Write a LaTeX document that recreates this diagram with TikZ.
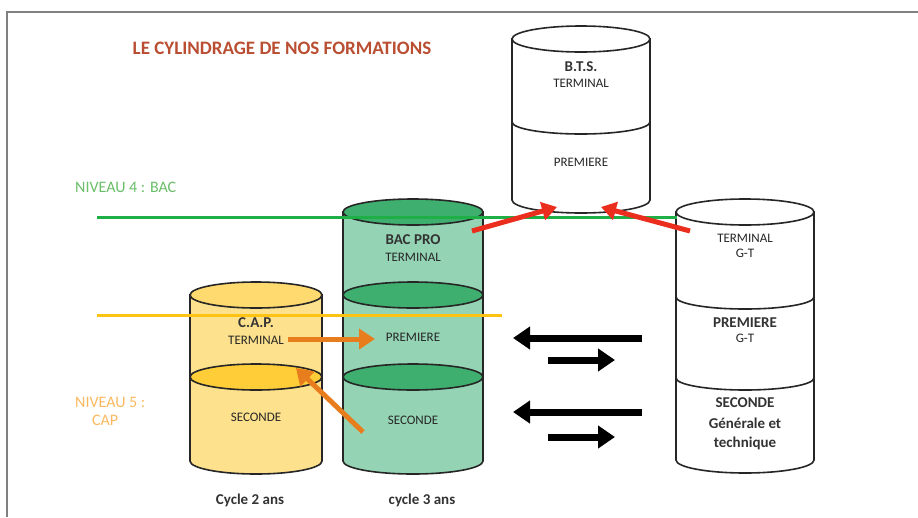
\documentclass[tikz,border=0pt]{standalone}
\usepackage{fontspec}
\setmainfont{Carlito}
\usetikzlibrary{arrows.meta}

\definecolor{titlered}{RGB}{185,78,50}
\definecolor{niv4green}{RGB}{105,190,105}
\definecolor{niv5orange}{RGB}{250,185,95}
\definecolor{bacline}{RGB}{30,175,70}
\definecolor{capline}{RGB}{255,195,20}
\definecolor{capbody}{RGB}{253,225,140}
\definecolor{captop}{RGB}{255,218,110}
\definecolor{capmid}{RGB}{255,205,55}
\definecolor{probody}{RGB}{148,212,180}
\definecolor{promid}{RGB}{62,175,110}
\definecolor{redarr}{RGB}{235,45,30}
\definecolor{orangearr}{RGB}{232,125,30}

\begin{document}
\begin{tikzpicture}[x=1pt,y=1pt]
  \tikzstyle{wall}=[line width=1.6pt, draw=black!85]
  \tikzstyle{smalltext}=[inner sep=0pt, text=black!85, font=\fontsize{13}{15}\selectfont]
  \tikzstyle{bigtext}=[inner sep=0pt, text=black!80, font=\bfseries\fontsize{15}{17}\selectfont]
  \tikzstyle{levelline}=[line width=3pt]
  \tikzstyle{blackarrow}=[-{Triangle[length=17pt,width=22pt]}, line width=7pt]
  \tikzstyle{redarrow}=[-{Triangle[length=15pt,width=18pt]}, line width=5pt, draw=redarr, fill=redarr]
  \tikzstyle{orangearrow}=[-{Triangle[length=16pt,width=20pt]}, line width=5pt, draw=orangearr, fill=orangearr]

  \useasboundingbox (0,0) rectangle (918,-517);
  \draw[gray, line width=1.5pt] (7,-517) -- (7,-12) -- (918,-12);

  % cylinder bodies
  \foreach \cx/\rx/\yt/\yb/\col in {256/66/295/461/capbody, 413/70/212/461/probody, 581/69/39/200/white, 745/69/212/460/white}
    \filldraw[wall, fill=\col] ({\cx-\rx},-\yt) -- ({\cx-\rx},-\yb)
      arc[start angle=180, end angle=360, x radius=\rx, y radius=13] -- ({\cx+\rx},-\yt) -- cycle;

  % tops and inner rings
  \foreach \cx/\rx/\y/\col in {256/66/295/captop, 256/66/377/capmid, 413/70/212/promid, 413/70/295/promid, 413/70/377/promid, 581/69/39/white, 745/69/212/white}
    \filldraw[wall, fill=\col] (\cx,-\y) ellipse[x radius=\rx, y radius=13];
  \foreach \cx/\rx/\y in {581/69/122, 745/69/297, 745/69/378}
    \draw[wall] ({\cx-\rx},-\y) arc[start angle=180, end angle=360, x radius=\rx, y radius=12];

  \foreach \n/\x/\y in {n4a/97/217, n4b/677/217, n5a/97/315, n5b/502/315,
      r1a/472/231, r1b/557/207, r2a/690/231, r2b/601/207,
      o1a/288/339, o1b/375/339, o2a/363/432, o2b/296/368,
      b1a/642/338, b1b/513/338, b2a/548/360, b2b/615/360,
      b3a/642/412, b3b/513/412, b4a/548/437, b4b/615/437}
    \coordinate (\n) at (\x,-\y);

  \draw[levelline, bacline] (n4a) -- (n4b);
  \draw[levelline, capline] (n5a) -- (n5b);

  \node[font=\bfseries\fontsize{19}{22}\selectfont, text=titlered, inner sep=0pt] (title) at (282,-48) {LE CYLINDRAGE DE NOS FORMATIONS};
  \node[font=\fontsize{16}{18}\selectfont, text=niv4green, inner sep=0pt, anchor=west] (niv4) at (75,-187) {NIVEAU 4 : BAC};
  \node[font=\fontsize{16}{18}\selectfont, text=niv5orange, inner sep=0pt, anchor=north west, align=left] (niv5) at (75,-397) {NIVEAU 5 :\\\hspace*{17pt}CAP};

  \foreach \n/\x/\y/\t in {capterm/256/340/TERMINAL, capsec/256/417/SECONDE,
      proterm/413/257/TERMINAL, proprem/413/337/PREMIERE, prosec/413/420/SECONDE,
      btsterm/581/83/TERMINAL, btsprem/581/162/PREMIERE,
      gtterm/745/238/TERMINAL, gtterm2/745/253/G-T, gtprem2/745/338/G-T}
    \node[smalltext] (\n) at (\x,-\y) {\t};
  \foreach \n/\x/\y/\t in {cap/256/323/C.A.P., pro/413/240/BAC PRO, bts/581/67/B.T.S.,
      gtprem/745/323/PREMIERE, gtsec/745/403/SECONDE, gtgen/745/423/Générale et, gttech/745/443/technique,
      cyc2/250/500/Cycle 2 ans, cyc3/422/500/cycle 3 ans}
    \node[bigtext] (\n) at (\x,-\y) {\t};

  \draw[redarrow] (r1a) -- (r1b);
  \draw[redarrow] (r2a) -- (r2b);
  \draw[orangearrow] (o1a) -- (o1b);
  \draw[orangearrow] (o2a) -- (o2b);
  \foreach \a/\b in {b1a/b1b, b2a/b2b, b3a/b3b, b4a/b4b}
    \draw[blackarrow] (\a) -- (\b);
\end{tikzpicture}
\end{document}
